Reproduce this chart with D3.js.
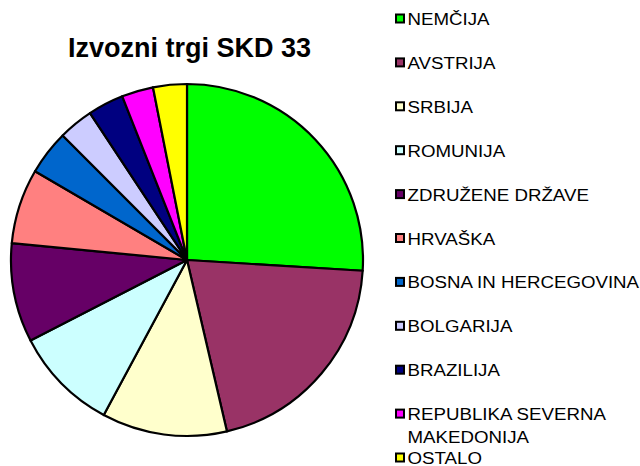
<!DOCTYPE html>
<html>
<head>
<meta charset="utf-8">
<script src="https://cdn.jsdelivr.net/npm/d3@7"></script>
<style>
  html, body { margin: 0; padding: 0; background: #fff; }
  svg { display: block; }
  text { font-family: "Liberation Sans", Arial, sans-serif; fill: #000; }
</style>
</head>
<body>
<svg id="chart" width="640" height="466"></svg>
<script>
// Export markets, share of exports (%)
const categories = [
  "NEMČIJA", "AVSTRIJA", "SRBIJA", "ROMUNIJA", "ZDRUŽENE DRŽAVE",
  "HRVAŠKA", "BOSNA IN HERCEGOVINA", "BOLGARIJA", "BRAZILIJA",
  "REPUBLIKA SEVERNA MAKEDONIJA", "OSTALO"
];
const shares = [26.0, 20.4, 11.5, 9.6, 9.1, 6.9, 4.1, 3.2, 3.3, 2.9, 3.1];
const colors = [
  "#00FF00", "#993366", "#FFFFCC", "#CCFFFF", "#660066",
  "#FF8080", "#0066CC", "#CCCCFF", "#000080", "#FF00FF", "#FFFF00"
];
// Legend labels split into lines
const legendLines = [
  ["NEMČIJA"], ["AVSTRIJA"], ["SRBIJA"], ["ROMUNIJA"], ["ZDRUŽENE DRŽAVE"],
  ["HRVAŠKA"], ["BOSNA IN HERCEGOVINA"], ["BOLGARIJA"], ["BRAZILIJA"],
  ["REPUBLIKA SEVERNA", "MAKEDONIJA"], ["OSTALO"]
];
const title = "Izvozni trgi SKD 33";

const svg = d3.select("#chart");

// Title
svg.append("text")
  .attr("x", 189.5)
  .attr("y", 57)
  .attr("text-anchor", "middle")
  .style("font-size", "27px")
  .style("font-weight", "bold")
  .text(title);

// Pie
const cx = 187, cy = 260, r = 176;
const pie = d3.pie().sort(null).value(d => d).startAngle(0).endAngle(2 * Math.PI);
const arc = d3.arc().innerRadius(0).outerRadius(r);
const color = d3.scaleOrdinal().domain(categories).range(colors);

const g = svg.append("g").attr("transform", `translate(${cx},${cy})`);
g.selectAll("path.slice")
  .data(pie(shares))
  .join("path")
  .attr("class", "slice")
  .attr("d", arc)
  .attr("fill", (d, i) => color(categories[i]))
  .attr("stroke", "#000")
  .attr("stroke-width", 2.2)
  .attr("stroke-linejoin", "round");

// Legend
const rowY = d3.scaleLinear().domain([0, categories.length - 1]).range([19, 458]);
const legend = svg.append("g");
const items = legend.selectAll("g.item")
  .data(categories)
  .join("g")
  .attr("class", "item")
  .attr("transform", (d, i) => `translate(0,${rowY(i)})`);

items.append("rect")
  .attr("x", 396)
  .attr("y", -4.5)
  .attr("width", 8)
  .attr("height", 8)
  .attr("fill", d => color(d))
  .attr("stroke", "#000")
  .attr("stroke-width", 2);

items.each(function(d, i) {
  const t = d3.select(this).append("text")
    .attr("transform", "translate(407.5,6) scale(1.1,1)")
    .style("font-size", "17px");
  legendLines[i].forEach((line, j) => {
    t.append("tspan")
      .attr("x", 0)
      .attr("dy", j === 0 ? 0 : 23)
      .text(line);
  });
});
</script>
</body>
</html>
